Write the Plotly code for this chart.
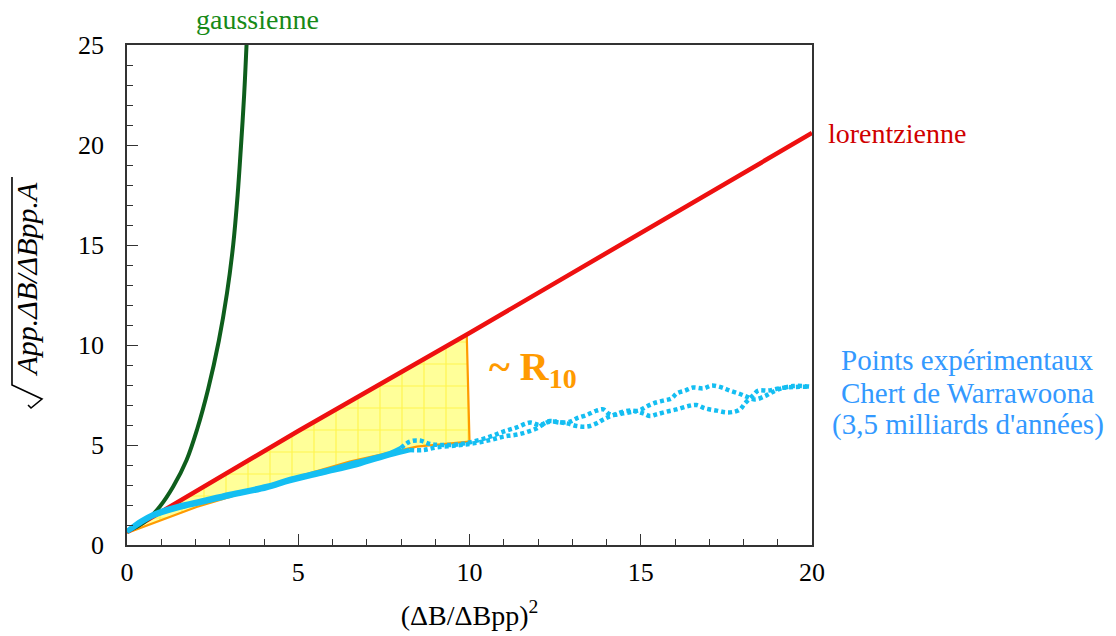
import plotly.graph_objects as go

# ---------------- data ----------------
gauss_x = [0.0, 0.35, 0.62, 0.96, 1.35, 1.74, 2.05, 2.37, 2.68, 2.92, 3.1, 3.23, 3.33, 3.42, 3.49]
gauss_y = [0.7, 0.98, 1.3, 1.92, 2.92, 4.25, 5.8, 7.8, 10.2, 12.6, 15.0, 17.5, 20.0, 22.5, 25.0]

lor_x = [0.0, 0.6, 5.0, 10.0, 15.0, 20.0]
lor_y = [0.65, 1.25, 5.7, 10.6, 15.6, 20.6]

# shaded region (orange bottom edge, vertical edge at x~10, back along the lorentzian)
region_x = [0.0, 2.03, 5.05, 6.5, 8.46, 10.0, 9.92, 0.0]
region_y = [0.6, 1.9, 3.45, 4.17, 4.92, 5.17, 10.5, 0.65]

# experimental points, branch A
expA_x = [0.0, 0.4, 0.77, 1.5, 2.13, 3.0, 4.08, 4.76, 5.73, 6.71, 7.68, 8.0, 8.26, 8.55,
          8.85, 9.2, 9.63, 10.11, 10.6, 10.99, 11.38, 11.77, 12.06, 12.35, 12.64, 12.93,
          13.13, 13.42, 13.71, 13.91, 14.05, 14.2, 14.49, 14.78, 14.98, 15.17, 15.37,
          15.66, 15.9, 16.05, 16.29, 16.53, 16.83, 17.07, 17.36, 17.6, 17.9, 18.09,
          18.34, 18.63, 18.77, 19.02, 19.45, 19.94]
expA_y = [0.7, 1.2, 1.55, 1.95, 2.2, 2.55, 2.95, 3.3, 3.7, 4.15, 4.6, 4.85, 5.17, 5.22,
          5.05, 5.0, 5.02, 5.17, 5.42, 5.67, 5.88, 6.12, 6.0, 6.2, 6.12, 6.17,
          6.33, 6.5, 6.72, 6.78, 6.58, 6.5, 6.58, 6.67, 6.75, 6.92, 7.08,
          7.22, 7.33, 7.58, 7.72, 7.87, 7.83, 7.97, 7.88, 7.72, 7.55, 7.42,
          7.28, 7.45, 7.58, 7.78, 7.95, 7.92]

# experimental points, branch B
expB_x = [0.0, 0.4, 0.77, 1.5, 2.13, 3.0, 4.08, 4.76, 5.73, 6.71, 7.68, 8.26, 8.65,
          9.04, 9.63, 10.11, 10.6, 10.99, 11.47, 11.96, 12.3, 12.84, 13.13, 13.42,
          13.71, 13.91, 14.2, 14.69, 15.07, 15.27, 15.46, 15.76, 16.05, 16.39, 16.63,
          16.88, 17.22, 17.51, 17.75, 17.9, 18.04, 18.29, 18.43, 18.72, 19.1, 19.5, 19.94]
expB_y = [0.65, 1.1, 1.45, 1.85, 2.1, 2.45, 2.85, 3.2, 3.6, 4.0, 4.5, 4.75, 4.75,
          4.88, 4.98, 5.08, 5.25, 5.42, 5.55, 5.83, 6.15, 6.08, 5.95, 5.92,
          6.08, 6.28, 6.5, 6.72, 6.58, 6.45, 6.53, 6.67, 6.78, 6.95, 7.0,
          6.83, 6.72, 6.63, 6.67, 6.78, 7.08, 7.5, 7.72, 7.72, 7.85, 7.9, 7.92]

x_ticks = [0, 5, 10, 15, 20]
y_ticks = [0, 5, 10, 15, 20, 25]

SERIF = "Liberation Serif"
BLUE = "#14BEF2"

fig = go.Figure()

# shaded region
fig.add_trace(go.Scatter(
    x=region_x, y=region_y, mode="lines", fill="toself",
    fillcolor="#FFFF99",
    fillpattern=dict(shape="+", fgcolor="#FFEA00", bgcolor="#FFFF99", size=22, solidity=0.1),
    line=dict(width=0), hoverinfo="skip", showlegend=False))
# orange outline (bottom and vertical edges)
fig.add_trace(go.Scatter(
    x=region_x[:7], y=region_y[:7], mode="lines",
    line=dict(color="#FF9A00", width=2.2), showlegend=False))

# lorentzian
fig.add_trace(go.Scatter(x=lor_x, y=lor_y, mode="lines",
                         line=dict(color="#EE1010", width=4.5), showlegend=False))
# gaussian
fig.add_trace(go.Scatter(x=gauss_x, y=gauss_y, mode="lines", line_shape="spline",
                         line=dict(color="#0E5E1C", width=4), showlegend=False))

# experimental points: dense part (solid band) then sparse dotted part
for xs, ys, cut in ((expA_x, expA_y, 12), (expB_x, expB_y, 12)):
    fig.add_trace(go.Scatter(x=xs[:cut], y=ys[:cut], mode="lines", line_shape="spline",
                             line=dict(color=BLUE, width=4.5), showlegend=False))
    fig.add_trace(go.Scatter(x=xs[cut - 1:], y=ys[cut - 1:], mode="lines", line_shape="spline",
                             line=dict(color=BLUE, width=4.5, dash="4px,3px"),
                             showlegend=False))

axis_common = dict(
    showline=True, mirror=True, linecolor="#333333", linewidth=1.5,
    ticks="inside", ticklen=11, tickwidth=1.2, tickcolor="#333333",
    showgrid=False, zeroline=False, automargin=False,
    tickfont=dict(family=SERIF, size=26, color="black"),
    minor=dict(ticks="inside", ticklen=6, tickwidth=1.2, tickcolor="#333333", dtick=1),
)

fig.update_xaxes(range=[0, 20], tickvals=x_ticks, ticklabelstandoff=3,
                 title=dict(text="(ΔB/ΔBpp)<sup>2</sup>", font=dict(family=SERIF, size=28, color="black"),
                            standoff=19),
                 **axis_common)
fig.update_yaxes(range=[0, 25], tickvals=y_ticks, ticklabelstandoff=16, **axis_common)

ann = []
ann.append(dict(x=0.1912, y=1.05, xref="paper", yref="paper", text="gaussienne", showarrow=False,
                font=dict(family=SERIF, size=28, color="#178A17"), xanchor="center", yanchor="middle"))
ann.append(dict(x=1.0204, y=0.824, xref="paper", yref="paper", text="lorentzienne", showarrow=False,
                font=dict(family=SERIF, size=28, color="#D00000"), xanchor="left", yanchor="middle"))
ann.append(dict(x=10.5, y=8.8, xref="x", yref="y", text="<b>~ R<sub>10</sub></b>", showarrow=False,
                font=dict(family=SERIF, size=40, color="#FF9A00"), xanchor="left", yanchor="middle"))
for txt, yy in (("Points expérimentaux", 0.37), ("Chert de Warrawoona", 0.304), ("(3,5 milliards d'années)", 0.242)):
    ann.append(dict(x=1.2277, y=yy, xref="paper", yref="paper", text=txt, showarrow=False,
                    font=dict(family=SERIF, size=29, color="#3399FF"), xanchor="center", yanchor="middle"))
# y-axis title (radical drawn as a shape)
ann.append(dict(x=-0.146, y=0.533, xref="paper", yref="paper", textangle=-90,
                text="<i>App.ΔB/ΔBpp.A</i>", showarrow=False,
                font=dict(family=SERIF, size=30, color="black"), xanchor="center", yanchor="middle"))

radical = "M -0.1679 0.736 L -0.1679 0.320 L -0.1241 0.292 L -0.1401 0.274 L -0.1445 0.280"

fig.update_layout(
    width=1116, height=636,
    margin=dict(l=127, r=304, t=45, b=91),
    paper_bgcolor="white", plot_bgcolor="white",
    annotations=ann,
    shapes=[dict(type="path", xref="paper", yref="paper", path=radical,
                 line=dict(color="black", width=1.6))],
)

# remove the default 8px page margin so the figure fills the window exactly
fig.write_html("out.html", config={"displayModeBar": False},
               post_script="document.body.style.margin='0px';document.body.style.overflow='hidden';")
